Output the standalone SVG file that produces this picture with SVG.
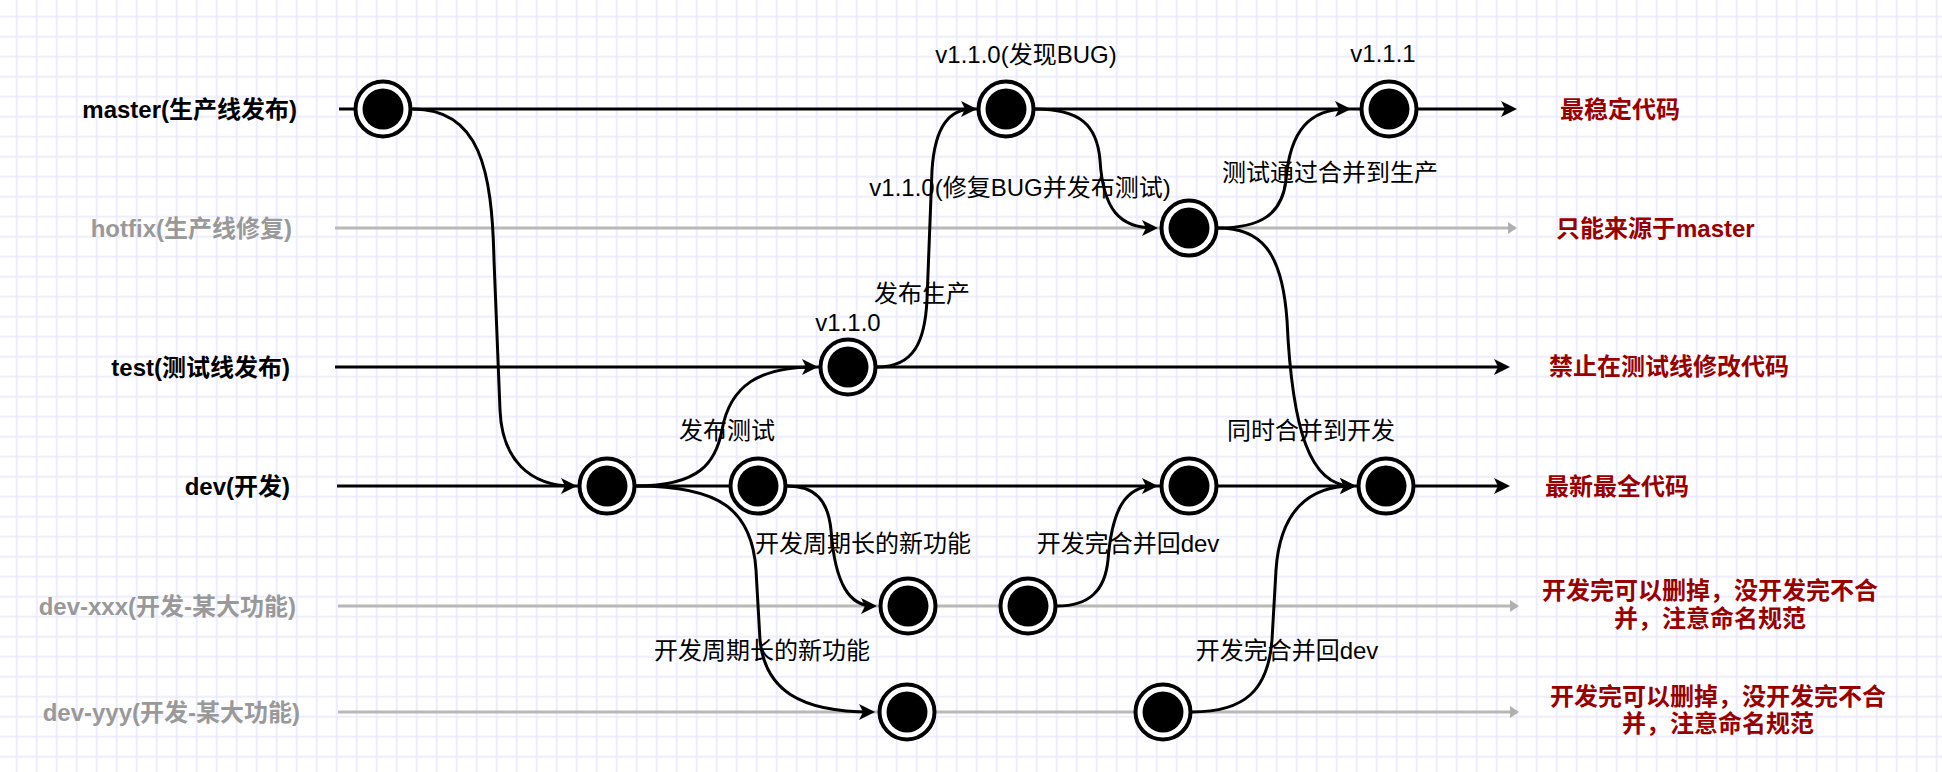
<svg xmlns="http://www.w3.org/2000/svg" width="1942" height="772" viewBox="0 0 1942 772">
<style>
text{font-family:"Liberation Sans","Noto Sans CJK SC",sans-serif;font-size:24px}
.lane{font-weight:bold;text-anchor:end}
.dark{fill:#000}
.grey{fill:#999}
.note{fill:#000;text-anchor:middle}
.red{fill:#990000;font-weight:bold}
.redc{fill:#990000;font-weight:bold;text-anchor:middle}
.bl{fill:none;stroke:#000;stroke-width:3}
.gl{fill:none;stroke:#b8b8b8;stroke-width:3}
.ring{fill:#fff;stroke:#000;stroke-width:4}
.dot{fill:#000}
</style>
<defs>
<pattern id="grid" patternUnits="userSpaceOnUse" x="6.7" y="6.7" width="20" height="20">
<path d="M10,0 V20 M0,10 H20" stroke="#e9e9fb" stroke-width="1.6" fill="none"/>
</pattern>
<marker id="ab" markerUnits="userSpaceOnUse" viewBox="-14 -10 20 20" refX="0" refY="0" markerWidth="20" markerHeight="20" orient="auto">
<path d="M4,0 L-12,-8 L-8,0 L-12,8 Z" fill="#000"/>
</marker>
<marker id="ag" markerUnits="userSpaceOnUse" viewBox="-12 -8 16 16" refX="0" refY="0" markerWidth="16" markerHeight="16" orient="auto">
<path d="M2,0 L-7,-6 L-7,6 Z" fill="#b0b0b0"/>
</marker>
<g id="commit">
<circle r="27.5" class="ring"/>
<circle r="20.5" class="dot"/>
</g>
</defs>
<rect width="1942" height="772" fill="#fff"/>
<rect width="1942" height="772" fill="url(#grid)"/>

<g id="lane-labels">
<g id="label-master"><text class="lane dark" x="297" y="118">master(生产线发布)</text></g>
<g id="label-hotfix"><text class="lane grey" x="292" y="237">hotfix(生产线修复)</text></g>
<g id="label-test"><text class="lane dark" x="290" y="376">test(测试线发布)</text></g>
<g id="label-dev"><text class="lane dark" x="290" y="495">dev(开发)</text></g>
<g id="label-devxxx"><text class="lane grey" x="296" y="615">dev-xxx(开发-某大功能)</text></g>
<g id="label-devyyy"><text class="lane grey" x="300" y="721">dev-yyy(开发-某大功能)</text></g>
</g>

<g id="connectors">
<path class="gl" d="M335,228 H1515" marker-end="url(#ag)"/>
<path class="gl" d="M338,606 H1517" marker-end="url(#ag)"/>
<path class="gl" d="M338,712 H1517" marker-end="url(#ag)"/>
<path class="bl" d="M339,109 H1513" marker-end="url(#ab)"/>
<path class="bl" d="M335,367 H1506" marker-end="url(#ab)"/>
<path class="bl" d="M337,486 H1506" marker-end="url(#ab)"/>
<path class="bl" d="M413,109 C480,109 492,170 494,260 L500,410 C502,460 530,486 573,486" marker-end="url(#ab)"/>
<path class="bl" d="M636,486 C700,486 716,462 722,430 C730,385 760,367 814,367" marker-end="url(#ab)"/>
<path class="bl" d="M877,367 C915,367 925,340 927,300 L932,170 C935,125 950,109 973,109" marker-end="url(#ab)"/>
<path class="bl" d="M1035,109 C1080,109 1097,125 1100,160 C1103,210 1120,228 1154,228" marker-end="url(#ab)"/>
<path class="bl" d="M1218,228 C1260,228 1282,215 1286,180 C1290,130 1310,109 1347,109" marker-end="url(#ab)"/>
<path class="bl" d="M1218,228 C1260,228 1282,250 1287,320 C1292,430 1310,486 1352,486" marker-end="url(#ab)"/>
<path class="bl" d="M637,486 C720,486 752,510 756,570 L760,640 C765,690 800,712 871,712" marker-end="url(#ab)"/>
<path class="bl" d="M787,486 C815,486 828,500 831,530 C835,585 850,606 873,606" marker-end="url(#ab)"/>
<path class="bl" d="M1057,606 C1090,606 1105,590 1108,560 C1112,510 1125,486 1154,486" marker-end="url(#ab)"/>
<path class="bl" d="M1192,712 C1245,712 1268,690 1272,640 L1276,570 C1280,510 1310,486 1352,486" marker-end="url(#ab)"/>
</g>

<g id="node-m1"><use href="#commit" x="383" y="109"/></g>
<g id="node-m2"><use href="#commit" x="1006" y="109"/></g>
<g id="node-m3"><use href="#commit" x="1389" y="109"/></g>
<g id="node-h1"><use href="#commit" x="1189" y="228"/></g>
<g id="node-t1"><use href="#commit" x="848" y="367"/></g>
<g id="node-d1"><use href="#commit" x="607" y="486"/></g>
<g id="node-d2"><use href="#commit" x="758" y="486"/></g>
<g id="node-d3"><use href="#commit" x="1189" y="486"/></g>
<g id="node-d4"><use href="#commit" x="1386" y="486"/></g>
<g id="node-x1"><use href="#commit" x="908" y="606"/></g>
<g id="node-x2"><use href="#commit" x="1028" y="606"/></g>
<g id="node-y1"><use href="#commit" x="907" y="712"/></g>
<g id="node-y2"><use href="#commit" x="1163" y="712"/></g>

<g id="edge-labels">
<text class="note" x="1026" y="63">v1.1.0(发现BUG)</text>
<text class="note" x="1383" y="62">v1.1.1</text>
<text class="note" x="1330" y="181">测试通过合并到生产</text>
<text class="note" x="1020" y="196">v1.1.0(修复BUG并发布测试)</text>
<text class="note" x="922" y="302">发布生产</text>
<text class="note" x="848" y="331">v1.1.0</text>
<text class="note" x="727" y="439">发布测试</text>
<text class="note" x="1311" y="439">同时合并到开发</text>
<text class="note" x="863" y="552">开发周期长的新功能</text>
<text class="note" x="1128" y="552">开发完合并回dev</text>
<text class="note" x="762" y="659">开发周期长的新功能</text>
<text class="note" x="1287" y="659">开发完合并回dev</text>
</g>

<g id="notes">
<g id="note-master"><text class="red" x="1560" y="118">最稳定代码</text></g>
<g id="note-hotfix"><text class="red" x="1556" y="237">只能来源于master</text></g>
<g id="note-test"><text class="red" x="1549" y="375">禁止在测试线修改代码</text></g>
<g id="note-dev"><text class="red" x="1545" y="495">最新最全代码</text></g>
<g id="note-devxxx"><text class="redc" x="1710" y="599">开发完可以删掉，没开发完不合</text><text class="redc" x="1710" y="627">并，注意命名规范</text></g>
<g id="note-devyyy"><text class="redc" x="1718" y="705">开发完可以删掉，没开发完不合</text><text class="redc" x="1718" y="732">并，注意命名规范</text></g>
</g>
</svg>
